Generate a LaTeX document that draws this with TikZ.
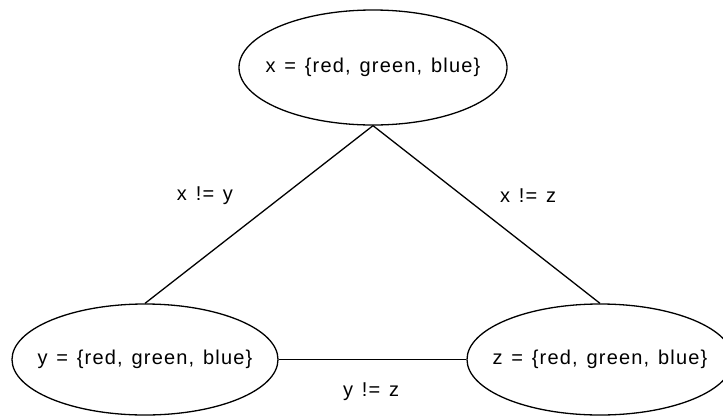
\documentclass[tikz,border=0pt]{standalone}
\usepackage{fontspec}
\setmainfont{Liberation Sans}[LetterSpace=6,WordSpace=1.3]
\usetikzlibrary{shapes.geometric}
\begin{document}
\begin{tikzpicture}[x=1pt,y=-1pt,
  var/.style={draw, ellipse, line width=1.3pt, inner sep=0pt, font=\fontsize{20}{24}\selectfont},
  lbl/.style={font=\fontsize{20}{24}\selectfont, inner sep=0pt},
  edge/.style={line width=1.3pt}]
\useasboundingbox (0,0) rectangle (723,416);
\node[var, minimum width=268pt, minimum height=115pt] (x) at (373,67.5) {\makebox[0pt][c]{x = \{red, green, blue\}}};
\node[var, minimum width=266pt, minimum height=111pt] (y) at (145,359.5) {\makebox[0pt][c]{y = \{red, green, blue\}}};
\node[var, minimum width=266pt, minimum height=111pt] (z) at (600,359.5) {\makebox[0pt][c]{z = \{red, green, blue\}}};
\draw[edge] (x.south) -- (y.north);
\draw[edge] (x.south) -- (z.north);
\draw[edge] (y.east) -- (z.west);
\node[lbl] (lxy) at (205,196) {x != y};
\node[lbl] (lxz) at (528,196) {x != z};
\node[lbl] (lyz) at (371,392) {y != z};
\end{tikzpicture}
\end{document}
